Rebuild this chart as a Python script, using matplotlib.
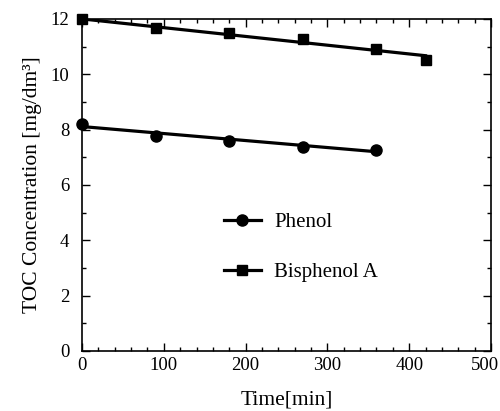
import matplotlib
matplotlib.use("Agg")
import matplotlib.pyplot as plt
from matplotlib.lines import Line2D
from matplotlib.ticker import MultipleLocator, FuncFormatter

plt.rcParams["font.family"] = ["Liberation Serif", "DejaVu Serif"]

# measured points
time_phenol = [0, 90, 180, 270, 360]
toc_phenol = [8.2, 7.77, 7.59, 7.37, 7.26]
time_bpa = [0, 90, 180, 270, 360, 420]
toc_bpa = [12.0, 11.67, 11.48, 11.26, 10.91, 10.52]

# fitted lines (end points)
fit_time_phenol = [0, 360]
fit_toc_phenol = [8.11, 7.2]
fit_time_bpa = [0, 420]
fit_toc_bpa = [12.0, 10.67]

X_MAX = 500

fig = plt.figure(figsize=(5.0, 4.11), dpi=100)
ax = fig.add_axes([0.164, 0.146, 0.818, 0.808])

ax.plot(fit_time_phenol, fit_toc_phenol, color="black", linewidth=2.3)
ax.plot(fit_time_bpa, fit_toc_bpa, color="black", linewidth=2.3)
ax.plot(time_phenol, toc_phenol, "o", color="black", markersize=8, clip_on=False)
ax.plot(time_bpa, toc_bpa, "s", color="black", markersize=6.5, clip_on=False)

ax.set_xlim(0, X_MAX)
ax.set_ylim(0, 12)
ax.xaxis.set_major_locator(MultipleLocator(100))
ax.xaxis.set_minor_locator(MultipleLocator(20))
ax.yaxis.set_major_locator(MultipleLocator(2))
ax.yaxis.set_minor_locator(MultipleLocator(1))
# the last label is drawn separately, nudged left so it stays inside the figure
ax.xaxis.set_major_formatter(FuncFormatter(lambda v, _: "" if v >= X_MAX else f"{v:.0f}"))
ax.annotate(f"{X_MAX}", xy=(X_MAX, 0), xycoords="data", xytext=(-4.5, -4),
            textcoords="offset points", ha="center", va="top", fontsize=13.5,
            annotation_clip=False)

ax.tick_params(which="both", direction="in", top=True, right=True, labelsize=13.5)
ax.tick_params(which="major", length=6, width=1)
ax.tick_params(which="minor", length=3, width=1)
ax.tick_params(axis="x", pad=4)
ax.tick_params(axis="y", pad=9)
for s in ax.spines.values():
    s.set_linewidth(1.2)

ax.set_xlabel("Time[min]", fontsize=15.5, labelpad=12)
ax.set_ylabel("TOC Concentration [mg/dm³]", fontsize=15.5, labelpad=6)

handles = [
    Line2D([], [], color="black", linewidth=2.3, marker="o", markersize=8),
    Line2D([], [], color="black", linewidth=2.3, marker="s", markersize=6.5),
]
ax.legend(handles, ["Phenol", "Bisphenol A"], loc="center", bbox_to_anchor=(0.535, 0.312),
          frameon=False, fontsize=15, handlelength=1.8, labelspacing=1.45, handletextpad=0.63)

fig.savefig("out.png", dpi=100)
